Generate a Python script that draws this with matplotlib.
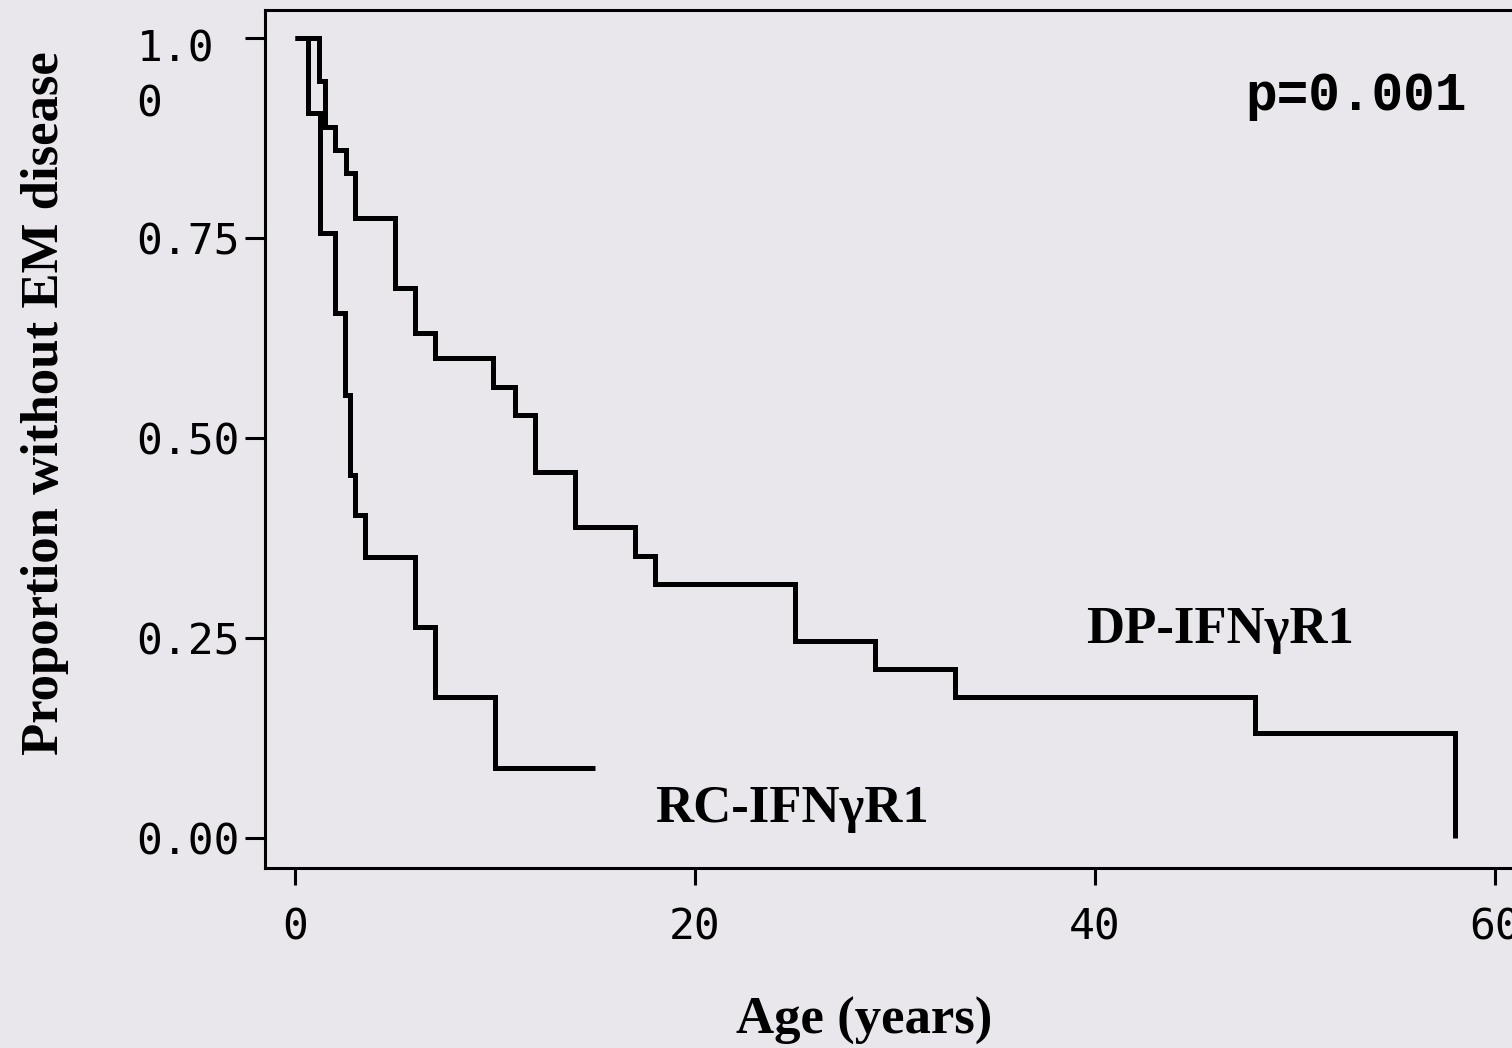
#!/usr/bin/env python3

import matplotlib
matplotlib.use('Agg')
import matplotlib.pyplot as plt
from matplotlib.transforms import ScaledTranslation

bg = '#e9e7ec'

# Kaplan-Meier estimates: age at event (years) and proportion still free
dp_age = [0, 1.2, 1.5, 2.0, 2.55, 3.0, 5.0, 6.0, 7.0, 9.9, 11.0, 12.0, 14.0,
    17.0, 18.0, 25.0, 29.0, 33.0, 48.0, 58.0]
dp_surv = [1.0, 0.946, 0.889, 0.86, 0.831, 0.775, 0.6875, 0.631, 0.60, 0.564,
    0.529, 0.4575, 0.389, 0.3525, 0.3175, 0.246, 0.211, 0.176, 0.131, 0.0]

rc_age = [0, 0.65, 1.25, 2.0, 2.5, 2.75, 3.0, 3.5, 6.0, 7.0, 10.0, 15.0]
rc_surv = [1.0, 0.906, 0.756, 0.656, 0.554, 0.454, 0.404, 0.351, 0.264,
    0.176, 0.0875, 0.0875]

yticks = [0.0, 0.25, 0.5, 0.75, 1.0]
ytick_labels = ['0.00', '0.25', '0.50', '0.75', '1.0\n0']
xticks = [0, 20, 40, 60]

fig = plt.figure(figsize=(15.12, 10.48), dpi=100, facecolor=bg)
ax = fig.add_axes([265 / 1512, 1 - 868 / 1048, 1265 / 1512, 858 / 1048])
ax.set_facecolor(bg)

for age, surv in [(dp_age, dp_surv), (rc_age, rc_surv)]:
    ax.step(age, surv, where='post', color='black', linewidth=3.6,
        solid_joinstyle='miter', solid_capstyle='butt')

ax.set_xlim(-1.5, 61.75)
ax.set_ylim(-0.0375, 1.035)

for side in ['left', 'top', 'bottom']:
    ax.spines[side].set_linewidth(2.2)
ax.spines['right'].set_visible(False)

mono = 'DejaVu Sans Mono'
serif = 'Liberation Serif'

ax.set_xticks(xticks)
ax.set_xticklabels([str(t) for t in xticks], family=mono, fontsize=31)
ax.tick_params(axis='x', direction='out', length=12.5, width=2.2, pad=15)

ax.set_yticks(yticks)
ax.set_yticklabels(ytick_labels, family=mono, fontsize=31, ha='left',
    multialignment='left', linespacing=1.4)
ax.tick_params(axis='y', direction='out', length=14.4, width=2.2, pad=78)

# the top label wraps onto two lines and hangs below its tick
top_label = ax.get_yticklabels()[-1]
top_label.set_va('center_baseline')
top_label.set_transform(top_label.get_transform()
    + ScaledTranslation(0, -0.28, fig.dpi_scale_trans))

ax.set_xlabel('Age (years)', family=serif, fontweight='bold', fontsize=38)
ax.xaxis.set_label_coords(0.4735, -0.15)
ax.set_ylabel('Proportion without EM disease', family=serif,
    fontweight='bold', fontsize=38)
ax.yaxis.set_label_coords(-0.155, 0.542)

ax.text(47.5, 0.91, 'p=0.001', family='Liberation Mono', fontweight='bold',
    fontsize=38, va='baseline')
ax.text(39.55, 0.244, 'DP-IFNγR1', family=serif, fontweight='bold',
    fontsize=38, va='baseline')
ax.text(18.0, 0.02, 'RC-IFNγR1', family=serif, fontweight='bold',
    fontsize=38, va='baseline')

fig.savefig('out.png', dpi=100, facecolor=bg)
